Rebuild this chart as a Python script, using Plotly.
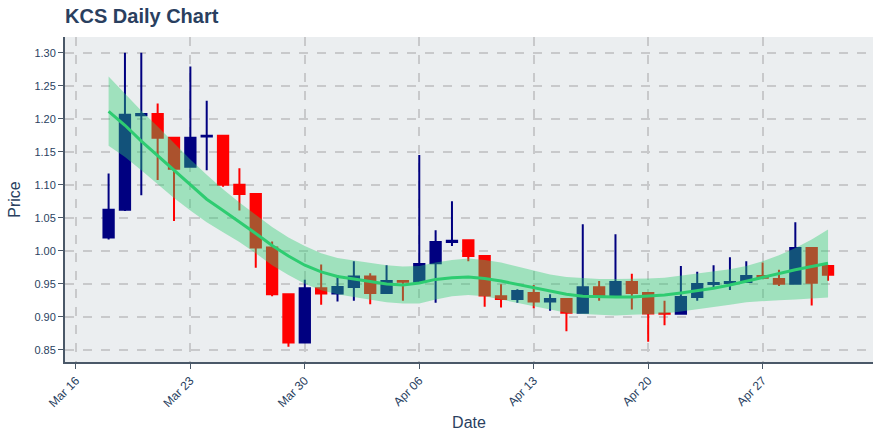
import plotly.graph_objects as go
import pandas as pd

dates = pd.date_range("2025-03-18", "2025-05-01", freq="D").strftime("%Y-%m-%d").tolist()

open_ = [1.020, 1.062, 1.205, 1.207, 1.171, 1.127, 1.173, 1.174, 1.100, 1.086,
         1.005, 0.934, 0.861, 0.943, 0.935, 0.945, 0.961, 0.936, 0.954, 0.953,
         0.981, 1.013, 1.016, 0.992, 0.931, 0.927, 0.936, 0.923, 0.927, 0.906,
         0.9445, 0.933, 0.9525, 0.936, 0.905, 0.9045, 0.930, 0.9495, 0.951, 0.9526,
         0.9617, 0.957, 0.950, 1.004, 0.9768]
high = [1.117, 1.300, 1.300, 1.223, 1.171, 1.279, 1.227, 1.174, 1.125, 1.086,
        1.014, 0.934, 0.956, 0.979, 0.963, 0.984, 0.966, 0.978, 0.954, 1.145,
        1.031, 1.075, 1.016, 0.992, 0.949, 0.9415, 0.948, 0.934, 0.927, 1.040,
        0.954, 1.025, 0.965, 0.936, 0.924, 0.977, 0.968, 0.978, 0.990, 0.984,
        0.982, 0.971, 1.043, 1.004, 0.9768]
low = [1.017, 1.060, 1.084, 1.107, 1.045, 1.127, 1.122, 1.097, 1.061, 0.974,
       0.931, 0.8545, 0.861, 0.918, 0.923, 0.924, 0.919, 0.936, 0.924, 0.953,
       0.921, 1.007, 0.984, 0.915, 0.914, 0.921, 0.913, 0.909, 0.878, 0.906,
       0.924, 0.933, 0.911, 0.862, 0.887, 0.9045, 0.924, 0.942, 0.9405, 0.9526,
       0.959, 0.9465, 0.950, 0.917, 0.9545]
close = [1.062, 1.206, 1.207, 1.171, 1.124, 1.171, 1.174, 1.100, 1.086, 1.005,
         0.934, 0.861, 0.943, 0.935, 0.945, 0.961, 0.936, 0.954, 0.953, 0.980,
         1.013, 1.015, 0.992, 0.932, 0.927, 0.939, 0.923, 0.927, 0.906, 0.9445,
         0.933, 0.9525, 0.936, 0.905, 0.9045, 0.930, 0.9495, 0.951, 0.9526, 0.9617,
         0.959, 0.950, 1.004, 0.9515, 0.9636]

trend = [1.211, 1.190, 1.166, 1.144, 1.121, 1.099, 1.078, 1.061, 1.044, 1.026,
         1.008, 0.992, 0.978, 0.968, 0.961, 0.957, 0.953, 0.9495, 0.948, 0.951,
         0.9565, 0.959, 0.960, 0.958, 0.954, 0.949, 0.943, 0.938, 0.934, 0.931,
         0.930, 0.930, 0.930, 0.931, 0.933, 0.936, 0.939, 0.943, 0.948, 0.954,
         0.960, 0.966, 0.971, 0.976, 0.981]
band_upper = [1.264, 1.238, 1.212, 1.188, 1.163, 1.138, 1.115, 1.093, 1.073, 1.054,
              1.036, 1.020, 1.007, 0.996, 0.989, 0.985, 0.981, 0.978, 0.976, 0.977,
              0.982, 0.986, 0.988, 0.986, 0.982, 0.976, 0.969, 0.964, 0.960, 0.958,
              0.957, 0.957, 0.957, 0.958, 0.959, 0.962, 0.965, 0.968, 0.972, 0.977,
              0.984, 0.993, 1.004, 1.017, 1.032]
band_lower = [1.159, 1.142, 1.122, 1.101, 1.080, 1.061, 1.043, 1.028, 1.013, 0.996,
              0.978, 0.963, 0.950, 0.940, 0.934, 0.930, 0.926, 0.922, 0.920, 0.920,
              0.926, 0.931, 0.933, 0.931, 0.926, 0.921, 0.915, 0.910, 0.906, 0.904,
              0.903, 0.902, 0.903, 0.904, 0.905, 0.908, 0.911, 0.914, 0.918, 0.922,
              0.924, 0.925, 0.926, 0.928, 0.929]

tick_dates = ["2025-03-16", "2025-03-23", "2025-03-30", "2025-04-06", "2025-04-13", "2025-04-20", "2025-04-27"]
tick_labels = ["Mar 16", "Mar 23", "Mar 30", "Apr 06", "Apr 13", "Apr 20", "Apr 27"]
y_ticks = [0.85, 0.90, 0.95, 1.00, 1.05, 1.10, 1.15, 1.20, 1.25, 1.30]

fig = go.Figure()
fig.add_trace(go.Candlestick(
    x=dates, open=open_, high=high, low=low, close=close,
    increasing=dict(line=dict(color="navy", width=2), fillcolor="navy"),
    decreasing=dict(line=dict(color="red", width=2), fillcolor="red"),
    showlegend=False,
))
fig.add_trace(go.Scatter(x=dates, y=band_lower, mode="lines", line=dict(width=0),
                         showlegend=False, hoverinfo="skip"))
fig.add_trace(go.Scatter(x=dates, y=band_upper, mode="lines", line=dict(width=0),
                         fill="tonexty", fillcolor="rgba(46,204,113,0.4)",
                         showlegend=False, hoverinfo="skip"))
fig.add_trace(go.Scatter(x=dates, y=trend, mode="lines", line=dict(color="#2ecc71", width=3),
                         showlegend=False))

axis_color = "#4a5868"
grid = dict(showgrid=True, gridcolor="#c8c9cb", griddash="dash", gridwidth=1.5, zeroline=False,
            showline=True, linecolor=axis_color, linewidth=2, ticks="outside", ticklen=5,
            tickcolor=axis_color, automargin=False)

fig.update_layout(
    width=880, height=440,
    margin=dict(l=65, r=7, t=37, b=78),
    title=dict(text="<b>KCS Daily Chart</b>", x=0.0739, xanchor="left", y=0.963, yanchor="middle",
               font=dict(size=20, color="#2a3f5f")),
    paper_bgcolor="white", plot_bgcolor="#ebeef0",
    boxgap=0.1,
    font=dict(family="Liberation Sans, Arial, sans-serif", color="#2a3f5f"),
    xaxis=dict(range=["2025-03-15 08:00", "2025-05-03 18:00"], tickvals=tick_dates, ticktext=tick_labels,
               tickangle=-45, rangeslider=dict(visible=False), tickfont=dict(size=12, color="#2a3f5f"),
               title=dict(text="Date", font=dict(size=16), standoff=8), **grid),
    yaxis=dict(range=[0.8314, 1.3237], tickvals=y_ticks, tickformat=".2f",
               tickfont=dict(size=11, color="#2a3f5f"),
               title=dict(text="Price", font=dict(size=16), standoff=10), **grid),
)

fig.write_html("out.html", config={"displayModeBar": False},
               post_script="document.body.style.margin='0px';")
